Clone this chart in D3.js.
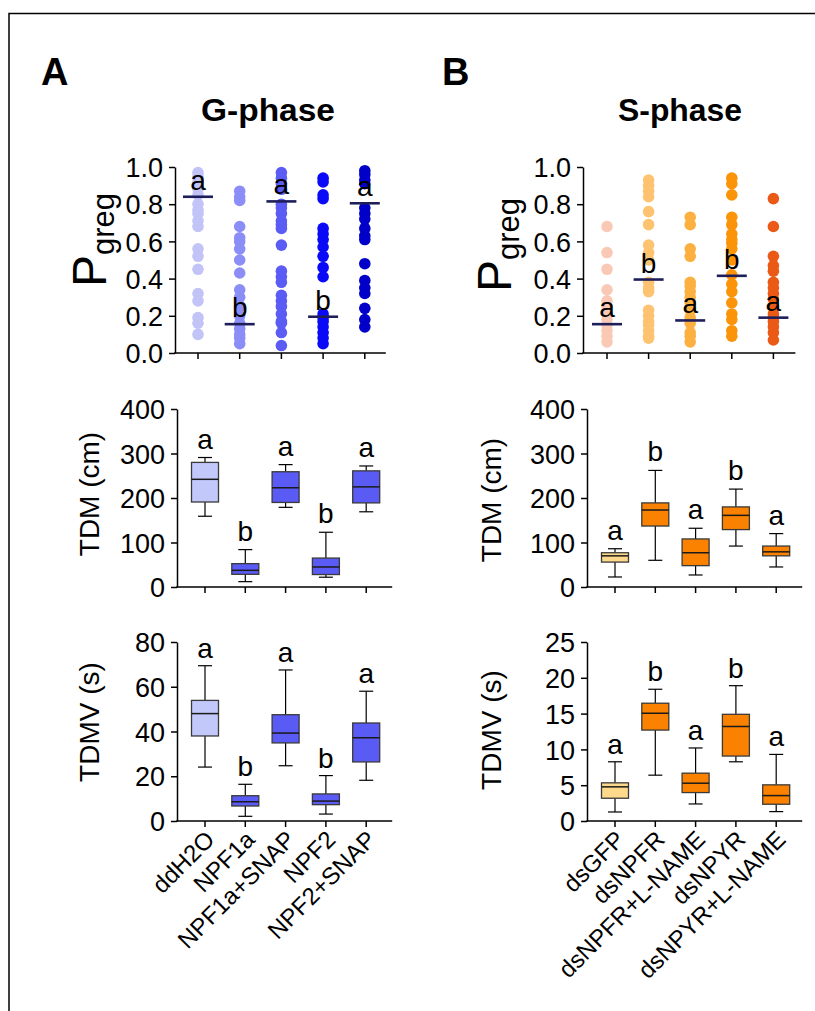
<!DOCTYPE html>
<html><head><meta charset="utf-8">
<script src="https://cdn.jsdelivr.net/npm/d3@7"></script>
<style>
body{margin:0;background:#fff}
svg{display:block}
text{font-family:"Liberation Sans",Arial,Helvetica,sans-serif;fill:#000}
</style>
</head><body>
<svg id="c" width="815" height="1011"></svg>
<script>
// ---------------- DATA ----------------
const gCategories = ["ddH2O","NPF1a","NPF1a+SNAP","NPF2","NPF2+SNAP"];
const sCategories = ["dsGFP","dsNPFR","dsNPFR+L-NAME","dsNPYR","dsNPYR+L-NAME"];

// P greg individual values (G-phase)
const gPgreg = [
  [0.97,0.95,0.92,0.88,0.85,0.80,0.77,0.75,0.71,0.68,0.56,0.52,0.45,0.32,0.28,0.19,0.16,0.10],
  [0.87,0.84,0.82,0.68,0.62,0.60,0.56,0.50,0.43,0.34,0.30,0.25,0.20,0.16,0.13,0.10,0.08,0.05],
  [0.97,0.94,0.91,0.88,0.80,0.78,0.75,0.71,0.69,0.67,0.58,0.44,0.41,0.38,0.31,0.28,0.25,0.21,0.17,0.16,0.11,0.04],
  [0.94,0.92,0.85,0.83,0.67,0.64,0.61,0.57,0.52,0.46,0.41,0.21,0.19,0.17,0.14,0.11,0.08,0.05],
  [0.98,0.96,0.93,0.91,0.78,0.75,0.72,0.67,0.63,0.61,0.48,0.39,0.35,0.32,0.24,0.18,0.14]
];
const gPgregMedian = [0.84,0.155,0.815,0.195,0.805];
const gPgregLetters = ["a","b","a","b","a"];

// P greg individual values (S-phase)
const sPgreg = [
  [0.68,0.54,0.45,0.34,0.28,0.25,0.21,0.18,0.15,0.12,0.09,0.06],
  [0.93,0.90,0.87,0.84,0.76,0.69,0.58,0.54,0.50,0.38,0.35,0.33,0.23,0.20,0.17,0.15,0.12,0.09,0.08],
  [0.73,0.69,0.56,0.52,0.38,0.36,0.33,0.30,0.27,0.23,0.19,0.16,0.11,0.09,0.06],
  [0.94,0.91,0.85,0.73,0.69,0.64,0.61,0.59,0.56,0.50,0.42,0.37,0.33,0.27,0.21,0.18,0.12,0.09],
  [0.83,0.68,0.52,0.47,0.44,0.38,0.35,0.32,0.29,0.25,0.21,0.19,0.17,0.14,0.11,0.07]
];
const sPgregMedian = [0.155,0.395,0.175,0.415,0.19];
const sPgregLetters = ["a","b","a","b","a"];

// box plots: [whisker low, Q1, median, Q3, whisker high]
const gTDM = [[159,191,242,280,291],[12,28.5,37.5,52.5,84],[179,190,223,259,275],[22,28,45,65,123],[169,189,225,261,272]];
const gTDMLetters = ["a","b","a","b","a"];
const sTDM = [[22.5,56,70,77,86],[60,137,173,189,262],[27,48,77,108,132],[92,129,161,180,220],[45,70,79,92,120]];
const sTDMLetters = ["a","b","a","b","a"];
const gTDMV = [[24.1,38,48,53.9,69.4],[2.1,6.7,8.6,11.3,16.4],[24.7,34.9,39.3,47.5,67.5],[3.1,7.3,8.9,12.1,20.3],[18.2,26.4,37.2,43.8,58]];
const gTDMVLetters = ["a","b","a","b","a"];
const sTDMV = [[1.26,3.18,4.77,5.33,8.27],[6.4,12.7,15.05,16.45,18.4],[2.38,3.97,5.28,6.68,10.2],[8.27,9.07,13.2,14.9,18.9],[1.31,2.34,3.55,5.05,9.3]];
const sTDMVLetters = ["a","b","a","b","a"];

const pgregTicks = [0,0.2,0.4,0.6,0.8,1.0];
const tdmTicks = [0,100,200,300,400];
const gTdmvTicks = [0,20,40,60,80];
const sTdmvTicks = [0,5,10,15,20,25];

// ---------------- STYLES ----------------
const gDotColors = ["#c2c4f8","#8c8ef8","#5a5cf4","#0a0af8","#0000c8"];
const sDotColors = ["#f9c9b6","#fdc370","#fbb040","#fb9408","#ea5a16"];
const gBoxColors = ["#c2c8fa","#5a5af4","#5a5af4","#5a5af4","#5a5af4"];
const sBoxColors = ["#fdd98c","#fa8200","#fa8200","#fa8200","#fa8200"];

const svg = d3.select("#c");

// frame
svg.append("path").attr("d","M9,1011V13.5H815").attr("fill","none").attr("stroke","#000").attr("stroke-width",1.5);

// panel letters & titles
svg.append("text").attr("x",41).attr("y",85).attr("font-size",38).attr("font-weight","bold").text("A");
svg.append("text").attr("x",442).attr("y",85).attr("font-size",38).attr("font-weight","bold").text("B");
svg.append("text").attr("x",268).attr("y",121).attr("text-anchor","middle").attr("font-size",32).attr("font-weight","bold")
  .attr("textLength",134).attr("lengthAdjust","spacingAndGlyphs").text("G-phase");
svg.append("text").attr("x",680).attr("y",121).attr("text-anchor","middle").attr("font-size",32).attr("font-weight","bold")
  .attr("textLength",124).attr("lengthAdjust","spacingAndGlyphs").text("S-phase");

function makePanel(o){
  const g = svg.append("g");
  const x = d3.scalePoint().domain(o.cats).range([o.axisX+o.pad, o.axisX+o.pad+4*o.step]);
  const y = d3.scaleLinear().domain([0,o.max]).range([o.y0,o.y1]);
  const endX = o.axisX + o.pad*2 + 4*o.step - 2;
  // y axis
  const ya = g.append("g").attr("transform",`translate(${o.axisX},0)`)
    .call(d3.axisLeft(y).tickValues(o.ticks).tickFormat(o.fmt).tickSize(6).tickSizeOuter(0).tickPadding(6));
  ya.select(".domain").attr("stroke-width",1.5);
  ya.selectAll(".tick line").attr("stroke-width",1.5);
  ya.selectAll("text").attr("font-size",27).attr("font-family","'Liberation Sans',Arial,sans-serif").attr("dy","0.36em");
  // x axis
  g.append("line").attr("x1",o.axisX-0.75).attr("x2",endX).attr("y1",o.y0).attr("y2",o.y0).attr("stroke","#000").attr("stroke-width",1.5);
  g.selectAll(".xt").data(o.cats).join("line").attr("class","xt")
    .attr("x1",d=>x(d)).attr("x2",d=>x(d)).attr("y1",o.y0).attr("y2",o.y0+6).attr("stroke","#000").attr("stroke-width",1.5);
  // y label
  const lab = g.append("text").attr("transform",`translate(${o.labelX},${o.labelY ?? (o.y0+o.y1)/2}) rotate(-90)`)
    .attr("text-anchor","middle").attr("font-size",28);
  if(o.label==="Pgreg"){
    lab.append("tspan").attr("font-size",48).text("P");
    lab.append("tspan").attr("font-size",31).attr("dy",8).text("greg");
  } else lab.text(o.label);
  // x labels
  if(o.xlabels){
    g.selectAll(".xl").data(o.cats).join("text").attr("class","xl")
      .attr("transform",d=>`translate(${x(d)+11},${o.y0+20}) rotate(-45)`)
      .attr("text-anchor","end").attr("font-size",24).text(d=>d);
  }
  return {g,x,y};
}

function scatterPanel(o, values, medians, letters, colors){
  const {g,x,y} = makePanel(o);
  o.cats.forEach((c,i)=>{
    g.selectAll(null).data(values[i]).join("circle")
      .attr("cx",x(c)).attr("cy",d=>y(d)).attr("r",5.8).attr("fill",colors[i]);
  });
  g.selectAll(".med").data(o.cats).join("line").attr("class","med")
    .attr("x1",d=>x(d)-15).attr("x2",d=>x(d)+15)
    .attr("y1",(d,i)=>y(medians[i])).attr("y2",(d,i)=>y(medians[i]))
    .attr("stroke","#1e1e5a").attr("stroke-width",2.6);
  g.selectAll(".let").data(o.cats).join("text").attr("class","let")
    .attr("x",d=>x(d)).attr("y",(d,i)=>y(medians[i])-7).attr("text-anchor","middle").attr("font-size",28)
    .text((d,i)=>letters[i]);
}

function boxPanel(o, stats, letters, colors){
  const {g,x,y} = makePanel(o);
  const bw = 27, cw = 7;
  o.cats.forEach((c,i)=>{
    const [lo,q1,md,q3,hi] = stats[i], cx = x(c);
    const bg = g.append("g");
    bg.append("line").attr("x1",cx).attr("x2",cx).attr("y1",y(hi)).attr("y2",y(q3)).attr("stroke","#000").attr("stroke-width",1.2);
    bg.append("line").attr("x1",cx).attr("x2",cx).attr("y1",y(q1)).attr("y2",y(lo)).attr("stroke","#000").attr("stroke-width",1.2);
    bg.append("line").attr("x1",cx-cw).attr("x2",cx+cw).attr("y1",y(hi)).attr("y2",y(hi)).attr("stroke","#000").attr("stroke-width",1.2);
    bg.append("line").attr("x1",cx-cw).attr("x2",cx+cw).attr("y1",y(lo)).attr("y2",y(lo)).attr("stroke","#000").attr("stroke-width",1.2);
    bg.append("rect").attr("x",cx-bw/2).attr("width",bw).attr("y",y(q3)).attr("height",y(q1)-y(q3))
      .attr("fill",colors[i]).attr("stroke","#3a3a3a").attr("stroke-width",1.3);
    bg.append("line").attr("x1",cx-bw/2).attr("x2",cx+bw/2).attr("y1",y(md)).attr("y2",y(md)).attr("stroke","#1a1a1a").attr("stroke-width",1.5);
    bg.append("text").attr("x",cx).attr("y",y(hi)-o.lgap).attr("text-anchor","middle").attr("font-size",28).text(letters[i]);
  });
}

const f1 = d3.format(".1f"), f0 = d3.format("d");
// Row 1 scatter
scatterPanel({cats:gCategories,axisX:175,pad:23,step:41.7,y0:353,y1:167,max:1,ticks:pgregTicks,fmt:f1,labelX:106,labelY:240,label:"Pgreg"},
  gPgreg,gPgregMedian,gPgregLetters,gDotColors);
scatterPanel({cats:sCategories,axisX:583,pad:24,step:41.6,y0:353,y1:167,max:1,ticks:pgregTicks,fmt:f1,labelX:511,labelY:245,label:"Pgreg"},
  sPgreg,sPgregMedian,sPgregLetters,sDotColors);
// Row 2 TDM
boxPanel({cats:gCategories,axisX:177,pad:28,step:40.3,y0:587,y1:409,max:400,ticks:tdmTicks,fmt:f0,labelX:99,labelY:494,label:"TDM (cm)",lgap:9},
  gTDM,gTDMLetters,gBoxColors);
boxPanel({cats:sCategories,axisX:587,pad:28,step:40.3,y0:587,y1:409,max:400,ticks:tdmTicks,fmt:f0,labelX:501,labelY:500,label:"TDM (cm)",lgap:9},
  sTDM,sTDMLetters,sBoxColors);
// Row 3 TDMV
boxPanel({cats:gCategories,axisX:177,pad:28,step:40.3,y0:821,y1:642,max:80,ticks:gTdmvTicks,fmt:f0,labelX:99,labelY:722,label:"TDMV (s)",lgap:8,xlabels:true},
  gTDMV,gTDMVLetters,gBoxColors);
boxPanel({cats:sCategories,axisX:587,pad:28,step:40.3,y0:821,y1:642,max:25,ticks:sTdmvTicks,fmt:f0,labelX:501,labelY:730,label:"TDMV (s)",lgap:8,xlabels:true},
  sTDMV,sTDMVLetters,sBoxColors);
</script>
</body></html>
